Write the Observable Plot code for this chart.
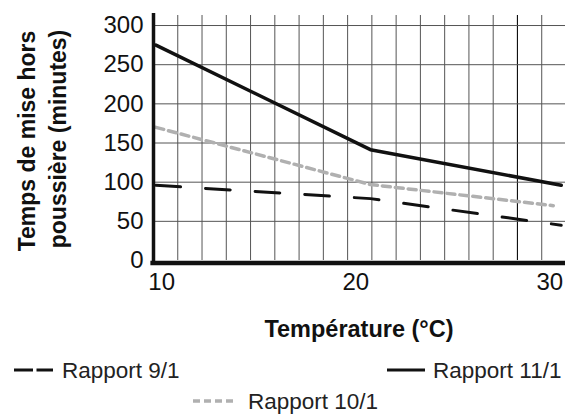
<!DOCTYPE html>
<html><head><meta charset="utf-8">
<script src="https://cdn.jsdelivr.net/npm/d3@7"></script>
<script src="https://cdn.jsdelivr.net/npm/@observablehq/plot@0.6"></script>
<style>
body{margin:0;background:#fff;font-family:"Liberation Sans",Arial,sans-serif;}
#chart svg{display:block}
#legend{display:block}
</style></head><body>
<div id="chart"></div>
<svg id="legend" width="565" height="68"></svg>
<script>
// Data
const series = ["Rapport 9/1", "Rapport 10/1", "Rapport 11/1"];
const temp91 = [9.5, 20.55, 30.38];
const val91 = [96, 79, 45];
const temp101 = [9.5, 20.55, 29.97];
const val101 = [170, 97, 70];
const temp111 = [9.5, 20.55, 30.38];
const val111 = [275, 141.5, 96];
const xTicks = [10, 20, 30];
const yTicks = [0, 50, 100, 150, 200, 250, 300];
const gridStep = 1.25;
const gridStart = 9.375;
const gridX = d3.range(1, 17).map(k => gridStart + k * gridStep);
const darkGridX = [gridStart + 15 * gridStep];

const rows = (t, v) => t.map((x, i) => ({x, y: v[i]}));
const d91 = rows(temp91, val91), d101 = rows(temp101, val101), d111 = rows(temp111, val111);

const W = 565, H = 350;
const plot = Plot.plot({
  width: W, height: H,
  marginLeft: 153, marginRight: 0, marginTop: 15, marginBottom: 90,
  style: {fontSize: "24px", fontFamily: "'Liberation Sans', Arial, sans-serif", color: "#111", background: "#fff", overflow: "visible"},
  x: {domain: [gridStart, 30.6], axis: null},
  y: {domain: [0, 312.8], axis: null},
  marks: [
    Plot.ruleX(gridX, {stroke: "#555", strokeWidth: 1}),
    Plot.ruleX(darkGridX, {stroke: "#111", strokeWidth: 1.1}),
    Plot.ruleY(yTicks.filter(d => d > 0), {stroke: "#555", strokeWidth: 1}),
    Plot.line(d101, {x: "x", y: "y", stroke: "#b0b0b0", strokeWidth: 3.5, strokeDasharray: "8,5"}),
    Plot.line(d91, {x: "x", y: "y", stroke: "#111", strokeWidth: 3, strokeDasharray: "24.7,25"}),
    Plot.line(d111, {x: "x", y: "y", stroke: "#111", strokeWidth: 3.5}),
    Plot.ruleX([gridStart], {y1: -5, y2: 315.5, stroke: "#111", strokeWidth: 3.5}),
    Plot.ruleY([0], {x1: 9.24, x2: 30.6, stroke: "#111", strokeWidth: 4.5, dy: 2.5}),
    Plot.axisX(xTicks, {tickSize: 0, tickPadding: 12, label: null, dx: -4}),
    Plot.axisY(yTicks, {tickSize: 0, tickPadding: 10, label: null})
  ]
});
document.getElementById("chart").appendChild(plot);

const svg = d3.select(plot);
svg.append("text").attr("transform", "translate(35,141) rotate(-90)")
  .attr("text-anchor", "middle").attr("font-weight", "bold").attr("font-size", 23)
  .attr("fill", "#111").text("Temps de mise hors");
svg.append("text").attr("transform", "translate(66,139) rotate(-90)")
  .attr("text-anchor", "middle").attr("font-weight", "bold").attr("font-size", 23)
  .attr("fill", "#111").text("poussière (minutes)");
svg.append("text").attr("x", 359).attr("y", 337)
  .attr("text-anchor", "middle").attr("font-weight", "bold").attr("font-size", 23.5)
  .attr("fill", "#111").text("Température (°C)");

// Legend below the SVG
const lg = d3.select("#legend");
const off = H;
const items = [
  {label: series[0], x1: 14, x2: 53, y: 370, tx: 62, ty: 378, stroke: "#111", dash: "19,3.5", w: 3},
  {label: series[2], x1: 387, x2: 425, y: 370, tx: 433, ty: 378, stroke: "#111", dash: null, w: 3},
  {label: series[1], x1: 193, x2: 235, y: 401, tx: 248, ty: 409, stroke: "#b0b0b0", dash: "7,4", w: 3.5}
];
items.forEach(it => {
  const l = lg.append("line").attr("x1", it.x1).attr("x2", it.x2)
    .attr("y1", it.y - off).attr("y2", it.y - off)
    .attr("stroke", it.stroke).attr("stroke-width", it.w);
  if (it.dash) l.attr("stroke-dasharray", it.dash);
  lg.append("text").attr("x", it.tx).attr("y", it.ty - off)
    .attr("font-size", 22.5).attr("fill", "#222")
    .attr("font-family", "'Liberation Sans', Arial, sans-serif").text(it.label);
});
</script>
</body></html>
